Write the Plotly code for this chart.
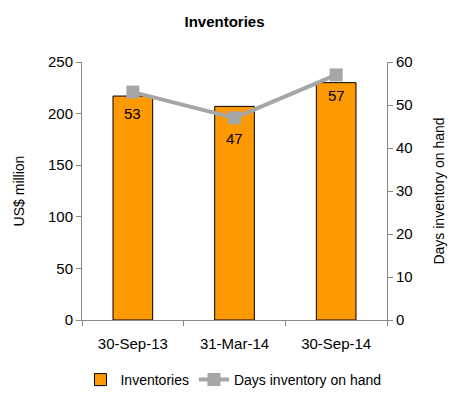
import plotly.graph_objects as go

categories = ["30-Sep-13", "31-Mar-14", "30-Sep-14"]
inventories = [217, 207, 230]
days = [53, 47, 57]

fig = go.Figure()
fig.add_trace(go.Bar(
    x=categories, y=inventories, name="Inventories",
    marker=dict(color="#FF9900", line=dict(color="#000000", width=1)),
    width=0.39,
))
fig.add_trace(go.Scatter(
    x=categories, y=days, name="Days inventory on hand", yaxis="y2",
    mode="lines+markers",
    line=dict(color="#A6A6A6", width=4),
    marker=dict(symbol="square", size=13, color="#A6A6A6"),
))
for c, d in zip(categories, days):
    fig.add_annotation(x=c, y=d, yref="y2", text=str(d), showarrow=False,
                       yshift=-21, font=dict(size=15, color="#000000"))

axis_common = dict(showgrid=False, showline=True, linecolor="#888888", linewidth=1,
                   ticks="outside", tickcolor="#888888", ticklen=5,
                   tickfont=dict(size=15, color="#000000"))

fig.update_layout(
    width=449, height=396,
    margin=dict(l=82, r=62, t=62, b=76, autoexpand=False),
    paper_bgcolor="white", plot_bgcolor="white",
    font=dict(family="Liberation Sans, Arial, sans-serif", color="#000000"),
    title=dict(text="<b>Inventories</b>", x=0.5, xanchor="center", y=0.945, yanchor="middle",
               font=dict(size=15, color="#000000")),
    xaxis=dict(**axis_common, tickson="boundaries", automargin=False, ticklabelstandoff=10),
    yaxis=dict(**axis_common, range=[0, 250], dtick=50, automargin=False,
               title=dict(text="US$ million", font=dict(size=14), standoff=20)),
    yaxis2=dict(**axis_common, range=[0, 60], dtick=10, overlaying="y", side="right",
                automargin=False,
                title=dict(text="Days inventory on hand", font=dict(size=14), standoff=22)),
    legend=dict(orientation="h", x=0.52, xanchor="center", xref="container",
                y=-0.035, yanchor="bottom", yref="container",
                font=dict(size=14), traceorder="normal", itemwidth=30,
                entrywidthmode="pixels"),
    showlegend=True,
)
fig.write_html("out.html")
